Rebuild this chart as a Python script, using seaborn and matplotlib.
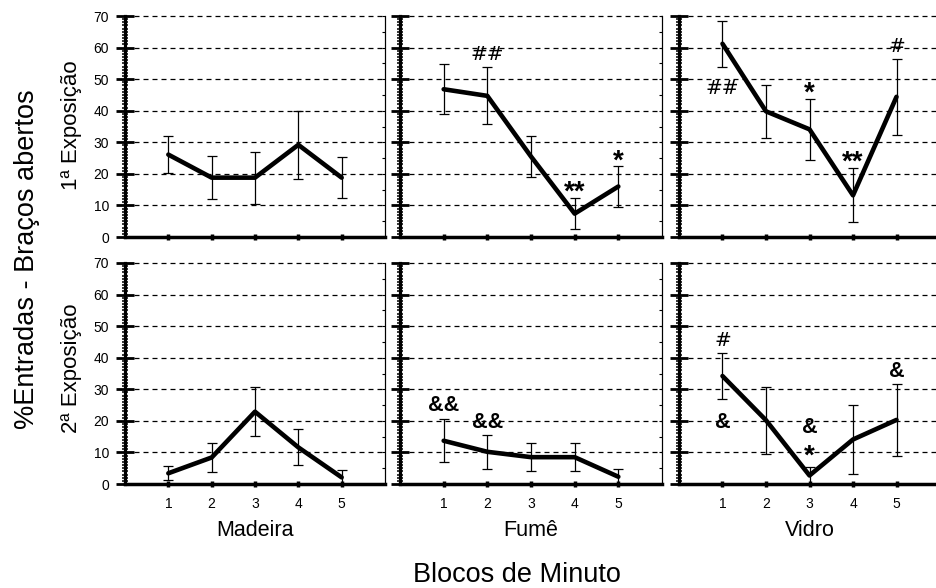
import numpy as np
import pandas as pd
import matplotlib
matplotlib.use("Agg")
import matplotlib.pyplot as plt
import seaborn as sns
from matplotlib.ticker import MultipleLocator

# ---------------- data ----------------
blocks = [1, 2, 3, 4, 5]
materials = ["Madeira", "Fumê", "Vidro"]
exposures = ["1ª Exposição", "2ª Exposição"]
yticks = [0, 10, 20, 30, 40, 50, 60, 70]

madeira_1_mean = [26.1, 18.8, 18.8, 29.2, 18.8]
madeira_1_sem = [5.8, 6.7, 8.2, 10.8, 6.4]
fume_1_mean = [46.8, 44.7, 25.5, 7.4, 16.0]
fume_1_sem = [7.9, 9.0, 6.6, 4.9, 6.5]
vidro_1_mean = [61.2, 39.8, 34.1, 13.2, 44.4]
vidro_1_sem = [7.2, 8.4, 9.6, 8.6, 12.1]

madeira_2_mean = [3.4, 8.4, 22.9, 11.6, 2.1]
madeira_2_sem = [2.2, 4.7, 7.7, 5.7, 2.3]
fume_2_mean = [13.7, 10.2, 8.5, 8.5, 2.3]
fume_2_sem = [6.8, 5.3, 4.5, 4.5, 2.3]
vidro_2_mean = [34.2, 20.2, 2.7, 14.1, 20.3]
vidro_2_sem = [7.2, 10.6, 2.8, 11.0, 11.5]

means = [[madeira_1_mean, fume_1_mean, vidro_1_mean],
         [madeira_2_mean, fume_2_mean, vidro_2_mean]]
sems = [[madeira_1_sem, fume_1_sem, vidro_1_sem],
        [madeira_2_sem, fume_2_sem, vidro_2_sem]]

# significance marks: (row, col, block, glyph bottom value, text)
marks = [
    (0, 1, 2, 56.2, "##"),
    (0, 1, 4, 15.3, "**"),
    (0, 1, 5, 25.3, "*"),
    (0, 2, 1, 45.4, "##"),
    (0, 2, 3, 46.7, "*"),
    (0, 2, 4, 24.8, "**"),
    (0, 2, 5, 58.6, "#"),
    (1, 1, 1, 23.2, "&&"),
    (1, 1, 2, 17.6, "&&"),
    (1, 2, 1, 43.6, "#"),
    (1, 2, 1, 17.6, "&"),
    (1, 2, 3, 16.2, "&"),
    (1, 2, 3, 9.9, "*"),
    (1, 2, 5, 33.9, "&"),
]

# ---------------- style ----------------
sns.set_style("white", rc={"axes.edgecolor": "black", "text.color": "black",
                           "axes.labelcolor": "black", "xtick.color": "black",
                           "ytick.color": "black"})
plt.rcParams["font.family"] = ["Liberation Sans", "DejaVu Sans"]

W, H = 937, 588
fig = plt.figure(figsize=(W / 100, H / 100), dpi=100)

col_px = [(125, 385), (400, 662), (679, 940)]
row_px = [(16, 237), (263, 484)]

axes = [[None] * 3 for _ in range(2)]
for r, (ytop, ybot) in enumerate(row_px):
    for c, (xl, xr) in enumerate(col_px):
        ax = fig.add_axes([xl / W, 1 - ybot / H, (xr - xl) / W, (ybot - ytop) / H])
        axes[r][c] = ax
        df = pd.DataFrame({"block": blocks, "mean": means[r][c], "sem": sems[r][c]})
        ax.errorbar(df["block"], df["mean"], yerr=df["sem"], fmt="none",
                    ecolor="black", elinewidth=0.9, capsize=3.6, capthick=0.9,
                    zorder=3)
        sns.lineplot(data=df, x="block", y="mean", color="black", lw=3.3,
                     errorbar=None, ax=ax, zorder=4)
        ax.set_xlim(0, 6)
        ax.set_ylim(0, 70)
        ax.set_xlabel("")
        ax.set_ylabel("")
        ax.set_xticks(blocks)
        ax.set_yticks(yticks)
        ax.yaxis.set_minor_locator(MultipleLocator(1))
        ax.grid(axis="y", color="black", linestyle=(0, (4, 3.2)), linewidth=0.9)
        for gl in ax.get_ygridlines():
            gl.set_clip_on(False)
        ax.set_axisbelow(True)
        ax.spines["top"].set_visible(False)
        for s in ("left", "bottom", "right"):
            ax.spines[s].set_color("black")
        ax.spines["left"].set_linewidth(2.3)
        ax.spines["bottom"].set_linewidth(2.5)
        ax.spines["right"].set_linewidth(0.8)
        ax.spines["right"].set_visible(True)
        ax.tick_params(axis="y", which="major", direction="inout", length=13,
                       width=2.0, pad=5, labelsize=10, left=True, right=False,
                       colors="black")
        ax.tick_params(axis="y", which="minor", direction="inout", length=4.5,
                       width=1.1, left=True, right=False, colors="black")
        ax.tick_params(axis="x", which="major", direction="inout", length=4,
                       width=2.5, pad=7, labelsize=10, bottom=True, colors="black")
        sec = ax.secondary_yaxis("right")
        sec.set_yticks([0, 5, 10, 15, 20, 25, 30, 35, 40, 45, 50, 55, 60, 65, 70])
        sec.tick_params(direction="in", length=2.5, width=0.8, labelright=False,
                        colors="black")
        sec.spines["right"].set_linewidth(0.8)
        sec.spines["right"].set_color("black")
        if c > 0:
            ax.tick_params(axis="y", labelleft=False)
        if r == 0:
            ax.tick_params(axis="x", labelbottom=False)
        else:
            ax.set_xlabel(materials[c], fontsize=15.5, labelpad=7, color="black")

for (r, c, x, yb, txt) in marks:
    ax = axes[r][c]
    if "#" in txt:
        fam, wt, fs, off = ["DejaVu Sans"], "normal", 14.5, 0.0
    elif "&" in txt:
        fam, wt, fs, off = ["Liberation Sans", "DejaVu Sans"], "bold", 15.5, 0.0
    else:
        fam, wt, fs, off = ["Liberation Sans", "DejaVu Sans"], "bold", 20, -0.40 * 20
    ax.annotate(txt, xy=(x, yb), xytext=(0, off), textcoords="offset points",
                ha="center", va="baseline", family=fam, weight=wt, fontsize=fs,
                color="black", zorder=6, annotation_clip=False)

fig.text(27 / W, 1 - 259 / H, "%Entradas - Braços abertos", rotation=90,
         ha="center", va="center", fontsize=19.5, color="black")
fig.text(72 / W, 1 - 125 / H, exposures[0], rotation=90, ha="center",
         va="center", fontsize=16, color="black")
fig.text(72 / W, 1 - 368 / H, exposures[1], rotation=90, ha="center",
         va="center", fontsize=16, color="black")
fig.text(517 / W, 1 - 575 / H, "Blocos de Minuto", ha="center", va="center",
         fontsize=19.5, color="black")

fig.savefig("out.png", dpi=100)
